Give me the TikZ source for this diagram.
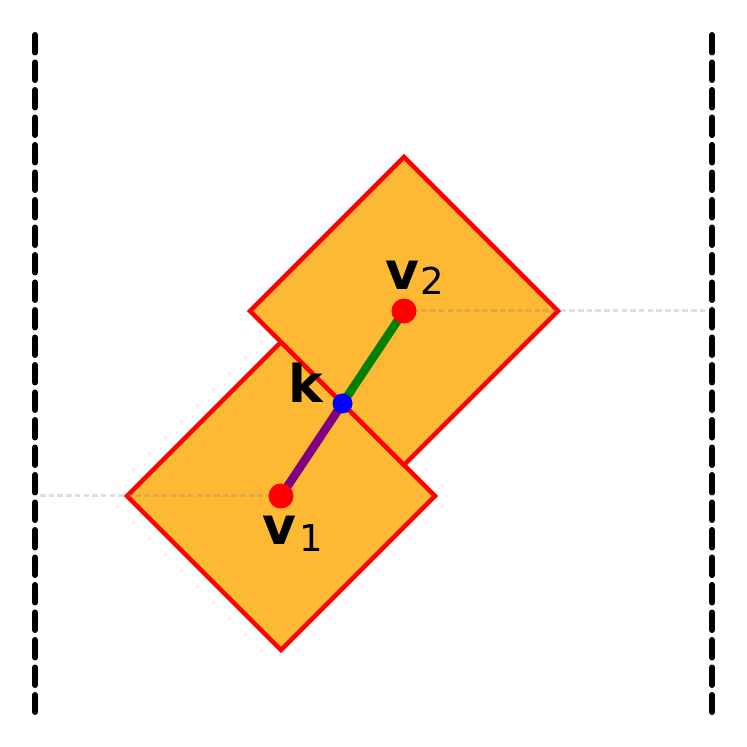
\documentclass[tikz,border=0pt]{standalone}
\usepackage{fontspec}
\setmainfont{DejaVu Sans}
\definecolor{sqfill}{RGB}{253,185,51}
\definecolor{guidegray}{RGB}{128,128,128}
\begin{document}
\begin{tikzpicture}[x=1pt,y=1pt,
  sq/.style={fill=sqfill, draw=red, line width=4.5pt, line join=miter},
  wall/.style={draw=black, line width=6pt, line cap=round, dash pattern=on 17.5pt off 10pt},
  guide/.style={draw=guidegray, draw opacity=0.25, line width=3pt, dash pattern=on 5.5pt off 3.2pt},
  seg/.style={line width=8.5pt},
  vdot/.style={circle, fill=red, minimum size=25pt, inner sep=0pt},
  kdot/.style={circle, fill=blue, minimum size=20pt, inner sep=0pt},
  lbl/.style={inner sep=0pt, anchor=base west, font=\fontsize{52}{52}\selectfont\bfseries},
  sub/.style={inner sep=0pt, anchor=base west, font=\fontsize{37}{37}\selectfont}
]
\useasboundingbox (0,0) rectangle (747,747);
% walls
\coordinate (wl1) at (35,712); \coordinate (wl2) at (35,35);
\coordinate (wr1) at (712,712); \coordinate (wr2) at (712,35);
\draw[wall] (wl1) -- (wl2);
\draw[wall] (wr1) -- (wr2);
% squares
\draw[sq] (127,251) -- (281,405) -- (435,251) -- (281,97) -- cycle;
\draw[sq] (250,436) -- (404,590) -- (558,436) -- (404,282) -- cycle;
% points
\coordinate (p1) at (281,251);
\coordinate (p2) at (404,436);
\coordinate (pk) at (342.5,343.5);
\coordinate (g1) at (40,251);
\coordinate (g2) at (710,436);
\draw[guide] (g1) -- (p1);
\draw[guide] (p2) -- (g2);
\draw[seg, draw={rgb,255:red,128;green,0;blue,128}] (p1) -- (pk);
\draw[seg, draw={rgb,255:red,0;green,128;blue,0}] (pk) -- (p2);
\node[vdot] (v1) at (p1) {};
\node[vdot] (v2) at (p2) {};
\node[kdot] (k) at (pk) {};
% labels
\node[lbl] (lv2) at (385,457) {v};
\node[sub] (lv2s) at (420,452) {2};
\node[lbl] (lv1) at (262,202) {v};
\node[sub] (lv1s) at (299,195) {1};
\node[lbl] (lk) at (288,344) {k};
\end{tikzpicture}
\end{document}
